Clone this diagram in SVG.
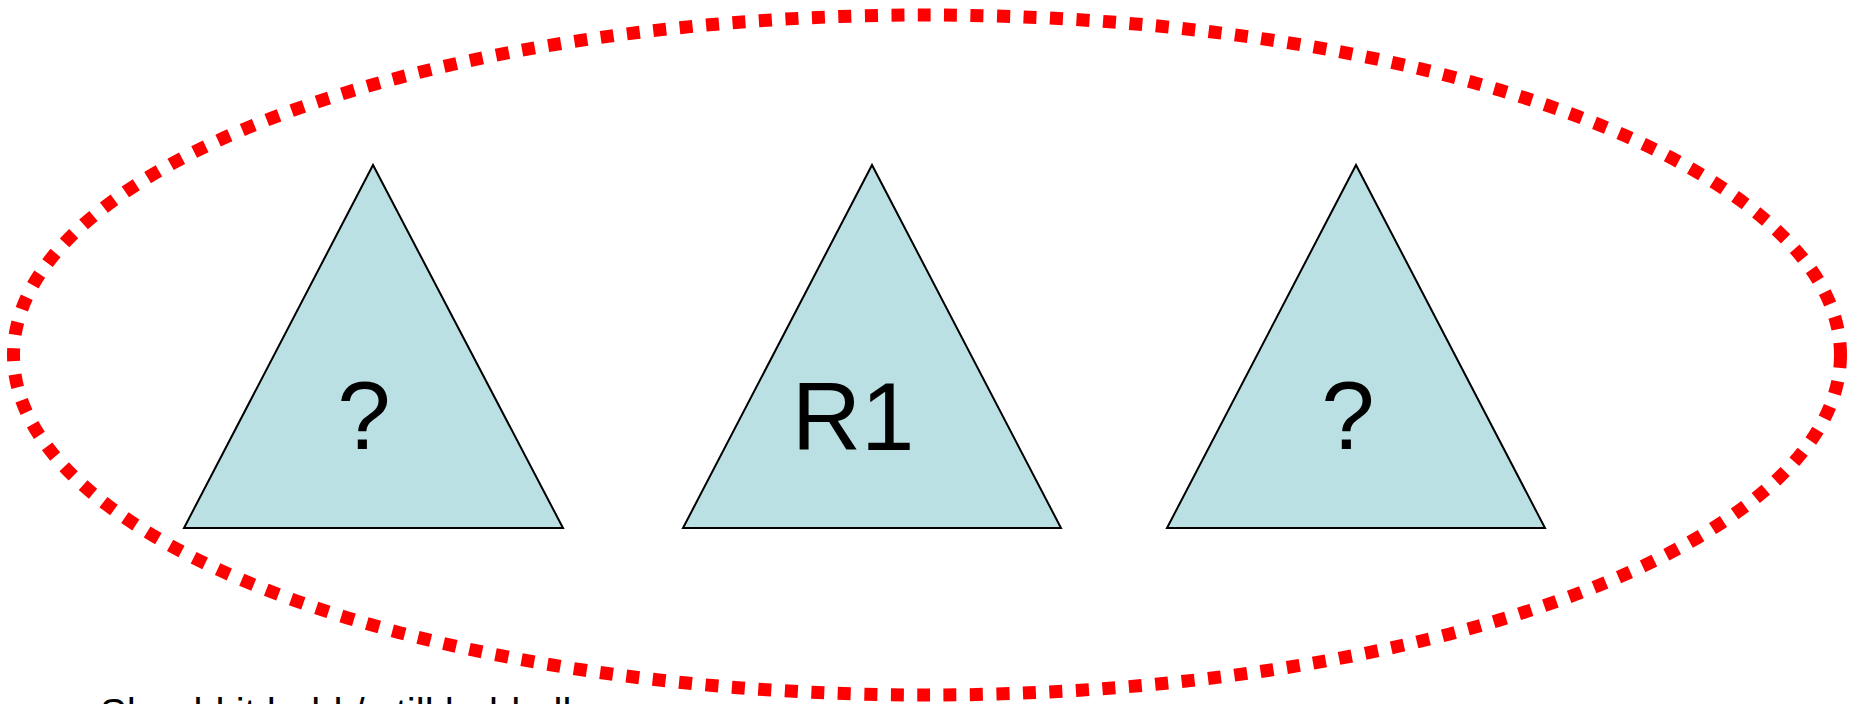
<svg xmlns="http://www.w3.org/2000/svg" width="1852" height="704" viewBox="0 0 1852 704">
<style>
.tri{fill:#BAE0E3;stroke:#000;stroke-width:2;stroke-linejoin:miter}
.lbl{font-family:"Liberation Sans",Arial,sans-serif;font-size:96px;fill:#000;text-anchor:middle}
.note{font-family:"Liberation Sans",Arial,sans-serif;font-size:40px;fill:#000}
.ring{fill:none;stroke:#FF0000;stroke-width:13;stroke-dasharray:13 13.5}
</style>
<rect width="1852" height="704" fill="#fff"/>
<g id="tree-left">
<polygon class="tri" points="373,165 184,528 563,528"/>
<text class="lbl" x="364" y="449">?</text>
</g>
<g id="tree-r1">
<polygon class="tri" points="872,165 683,528 1061,528"/>
<text class="lbl" x="853" y="450">R1</text>
</g>
<g id="tree-right">
<polygon class="tri" points="1356,165 1167,528 1545,528"/>
<text class="lbl" x="1348" y="449">?</text>
</g>
<g id="group-ellipse">
<ellipse class="ring" cx="927" cy="355" rx="913.5" ry="340"/>
</g>
<g id="note">
<text class="note" x="100" y="727">Should it hold / still hold all</text>
</g>
</svg>
